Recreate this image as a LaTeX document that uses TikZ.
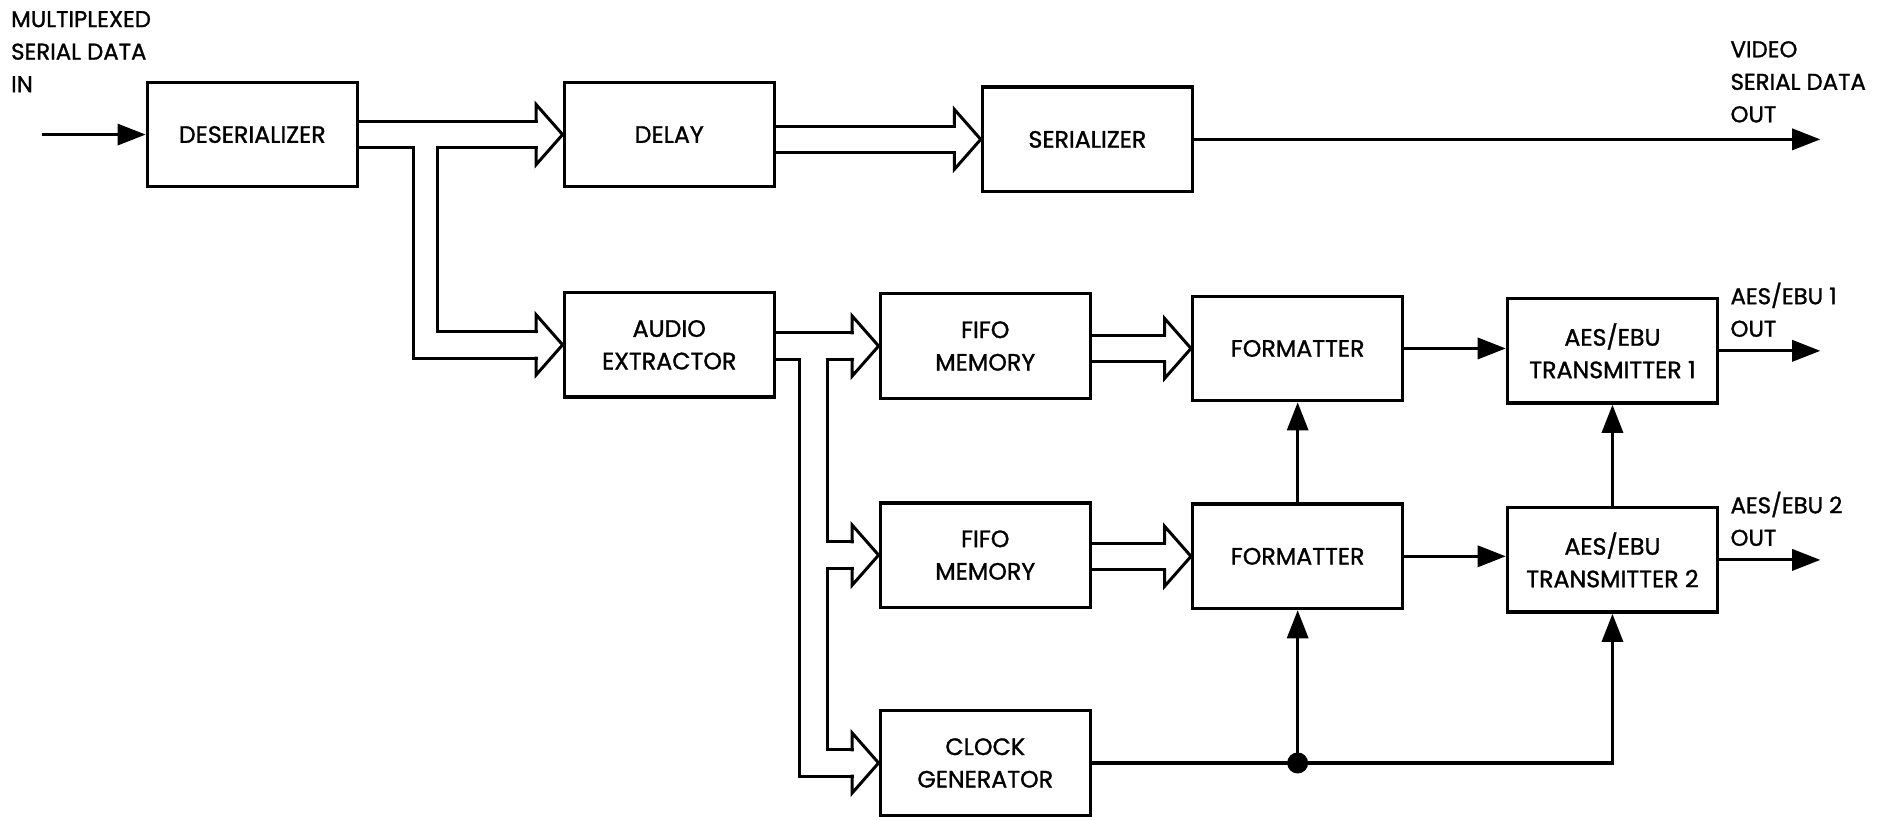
\documentclass[tikz,border=0pt]{standalone}
\usepackage{fontspec}
\setmainfont{Poppins}
\newfontfamily\blkfont{Poppins}[FakeBold=1.2]
\usetikzlibrary{arrows.meta, calc}

\tikzset{
  blk/.style={draw, line width=1.9pt, minimum width=4.2cm, minimum height=2.09cm,
    align=center, font=\blkfont\fontsize{13.5}{18.5}\selectfont},
  sig/.style={line width=1.8pt, -{Triangle[length=16pt,width=12pt]}},
  bus/.style={line width=1.7pt, line cap=rect, line join=miter},
  lbl/.style={align=left, anchor=north west, inner sep=0pt, font=\blkfont\fontsize{13}{18.5}\selectfont},
}
% hollow bus arrow head, tip at #1
\newcommand{\bushead}[1]{\draw[bus] ($(#1)+(-22,-11)$) -- ++(0,-14) -- (#1) -- ++(-22,25) -- ++(0,-14);}

\begin{document}
\begin{tikzpicture}[x=0.02403cm, y=-0.02403cm]
\useasboundingbox (0,0) rectangle (1568,682);

% blocks
\node[blk] (deser) at (210,112) {DESERIALIZER};
\node[blk] (delay) at (557,112) {DELAY};
\node[blk] (serial) at (905,116) {SERIALIZER};
\node[blk] (audio) at (557,287) {AUDIO\\EXTRACTOR};
\node[blk] (fifoA) at (820,288) {FIFO\\MEMORY};
\node[blk] (fifoB) at (820,462) {FIFO\\MEMORY};
\node[blk] (clock) at (820,635) {CLOCK\\GENERATOR};
\node[blk] (fmtA) at (1080,290) {FORMATTER};
\node[blk] (fmtB) at (1080,463) {FORMATTER};
\node[blk] (txA) at (1342,292) {AES/EBU\\TRANSMITTER 1};
\node[blk] (txB) at (1342,466) {AES/EBU\\TRANSMITTER 2};

% labels
\node[lbl] (inlbl) at (9,9) {MULTIPLEXED\\SERIAL DATA\\IN};
\node[lbl] (vidlbl) at (1440,34) {VIDEO\\SERIAL DATA\\OUT};
\node[lbl] (aesAlbl) at (1440,235) {AES/EBU 1\\OUT};
\node[lbl] (aesBlbl) at (1440,409) {AES/EBU 2\\OUT};

% free ends
\coordinate (in) at (35,112);
\coordinate (vidout) at (1515,116);
\coordinate (aesAout) at (1515,292);
\coordinate (aesBout) at (1515,466);

% single lines
\draw[sig] (in) -- (deser.west);
\draw[sig] (serial.east) -- (vidout);
\draw[sig] (txA.east) -- (aesAout);
\draw[sig] (txB.east) -- (aesBout);
\draw[sig] (fmtA.east) -- (fmtA.east -| txA.west);
\draw[sig] (fmtB.east) -- (fmtB.east -| txB.west);
\draw[sig] (fmtB.north) -- (fmtA.south);
\draw[sig] (txB.north) -- (txA.south);
\coordinate (tap) at (clock.east -| fmtB.south);
\draw[line width=1.8pt] (clock.east) -- (tap);
\draw[sig] (tap) -- (fmtB.south);
\draw[sig] (tap) -| (txB.south);
\fill (tap) circle (0.21cm);

% deserializer buses
\draw[bus] ($(deser.east)+(0,-11)$) -- ($(delay.west)+(-22,-11)$);
\bushead{delay.west}
\draw[bus] ($(delay.west)+(-22,11)$) -- ($(deser.east)+(65,11)$) |- ($(audio.west)+(-22,-11)$);
\draw[bus] ($(deser.east)+(0,11)$) -- ($(deser.east)+(45,11)$) |- ($(audio.west)+(-22,11)$);
\bushead{audio.west}

% delay to serializer
\draw[bus] ($(delay.east |- serial.west)+(0,-11)$) -- ($(serial.west)+(-22,-11)$);
\draw[bus] ($(delay.east |- serial.west)+(0,11)$) -- ($(serial.west)+(-22,11)$);
\bushead{serial.west}

% audio extractor buses
\draw[bus] ($(audio.east |- fifoA.west)+(0,-11)$) -- ($(fifoA.west)+(-22,-11)$);
\bushead{fifoA.west}
\draw[bus] ($(fifoA.west)+(-22,11)$) -- ($(audio.east |- fifoA.west)+(43,11)$) |- ($(fifoB.west)+(-22,-11)$);
\bushead{fifoB.west}
\draw[bus] ($(fifoB.west)+(-22,11)$) -- ($(audio.east |- fifoB.west)+(43,11)$) |- ($(clock.west)+(-22,-11)$);
\draw[bus] ($(audio.east |- fifoA.west)+(0,11)$) -- ($(audio.east |- fifoA.west)+(20,11)$) |- ($(clock.west)+(-22,11)$);
\bushead{clock.west}

% fifo to formatter
\draw[bus] ($(fifoA.east |- fmtA.west)+(0,-11)$) -- ($(fmtA.west)+(-22,-11)$);
\draw[bus] ($(fifoA.east |- fmtA.west)+(0,11)$) -- ($(fmtA.west)+(-22,11)$);
\bushead{fmtA.west}
\draw[bus] ($(fifoB.east |- fmtB.west)+(0,-11)$) -- ($(fmtB.west)+(-22,-11)$);
\draw[bus] ($(fifoB.east |- fmtB.west)+(0,11)$) -- ($(fmtB.west)+(-22,11)$);
\bushead{fmtB.west}
\end{tikzpicture}
\end{document}
